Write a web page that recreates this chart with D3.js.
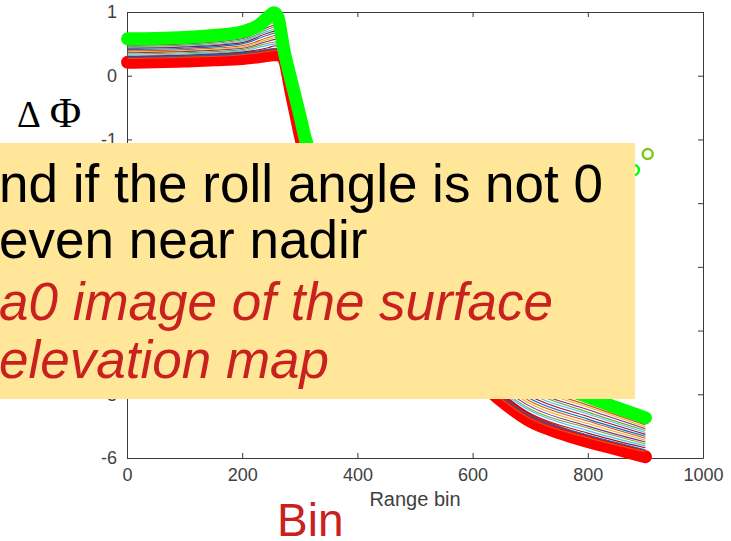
<!DOCTYPE html>
<html>
<head>
<meta charset="utf-8">
<script src="https://cdn.jsdelivr.net/npm/d3@7/dist/d3.min.js"></script>
<style>
  html, body { margin: 0; padding: 0; background: #fff; }
  svg { display: block; }
  .tick text { font-family: "Liberation Sans", Arial, sans-serif; fill: #404040; }
</style>
</head>
<body>
<svg id="chart" width="731" height="541"></svg>
<script>
// Range bins sampled for the two extreme profiles
const bins = [1, 50, 100, 150, 200, 230, 245, 255, 262, 272, 286, 300, 310,
              350, 400, 450, 500, 550, 600, 650, 700, 750, 800, 850, 900];

// Upper (green) and lower (red) phase-difference profiles
const greenValues = [0.58, 0.585, 0.60, 0.63, 0.69, 0.80, 0.92, 0.99, 0.92, 0.42, -0.11, -0.62, -1.0,
                     -1.6, -2.2, -2.75, -3.25, -3.7, -4.1, -4.42, -4.68, -4.88, -5.04, -5.21, -5.37];
const redValues = [0.21, 0.22, 0.23, 0.25, 0.27, 0.30, 0.32, 0.33, 0.33, 0.27, -0.3, -0.9, -1.3,
                   -2.05, -2.72, -3.3, -3.8, -4.27, -4.7, -5.1, -5.42, -5.6, -5.74, -5.86, -5.98];

// Intermediate profiles, sampled more coarsely
const midBins = [1, 100, 200, 245, 258, 272, 290, 310, 400, 500, 600, 700, 800, 900];
const midSeries = [
  [0.53, 0.55, 0.64, 0.86, 0.90, 0.40, -0.28, -1.05, -2.25, -3.30, -4.15, -4.80, -5.13, -5.45],
  [0.51, 0.53, 0.62, 0.83, 0.87, 0.39, -0.30, -1.08, -2.28, -3.33, -4.19, -4.84, -5.17, -5.48],
  [0.50, 0.52, 0.60, 0.80, 0.83, 0.38, -0.32, -1.10, -2.32, -3.37, -4.22, -4.88, -5.20, -5.51],
  [0.48, 0.50, 0.58, 0.76, 0.80, 0.38, -0.34, -1.13, -2.35, -3.40, -4.26, -4.92, -5.24, -5.54],
  [0.46, 0.48, 0.56, 0.73, 0.77, 0.37, -0.37, -1.16, -2.38, -3.43, -4.30, -4.95, -5.28, -5.57],
  [0.44, 0.46, 0.54, 0.70, 0.73, 0.36, -0.39, -1.18, -2.42, -3.47, -4.33, -4.99, -5.31, -5.60],
  [0.43, 0.45, 0.52, 0.67, 0.70, 0.35, -0.41, -1.21, -2.45, -3.50, -4.37, -5.03, -5.35, -5.63],
  [0.41, 0.43, 0.50, 0.64, 0.67, 0.34, -0.43, -1.24, -2.48, -3.53, -4.41, -5.07, -5.39, -5.66],
  [0.39, 0.41, 0.47, 0.60, 0.63, 0.34, -0.45, -1.26, -2.52, -3.57, -4.44, -5.11, -5.42, -5.69],
  [0.37, 0.39, 0.45, 0.57, 0.60, 0.33, -0.47, -1.29, -2.55, -3.60, -4.48, -5.15, -5.46, -5.72],
  [0.36, 0.38, 0.43, 0.54, 0.57, 0.32, -0.49, -1.32, -2.58, -3.63, -4.52, -5.19, -5.50, -5.75],
  [0.34, 0.36, 0.41, 0.51, 0.53, 0.31, -0.51, -1.34, -2.62, -3.67, -4.55, -5.23, -5.53, -5.78],
  [0.32, 0.34, 0.39, 0.48, 0.50, 0.30, -0.54, -1.37, -2.65, -3.70, -4.59, -5.26, -5.57, -5.81],
  [0.30, 0.32, 0.37, 0.44, 0.47, 0.30, -0.56, -1.40, -2.68, -3.73, -4.63, -5.30, -5.61, -5.84],
  [0.29, 0.31, 0.35, 0.41, 0.43, 0.29, -0.58, -1.42, -2.72, -3.77, -4.66, -5.34, -5.64, -5.87],
  [0.27, 0.29, 0.33, 0.38, 0.40, 0.28, -0.60, -1.45, -2.75, -3.80, -4.70, -5.38, -5.68, -5.90]
];
const midColors = ["#0072BD", "#D95319", "#EDB120", "#7E2F8E", "#77AC30", "#4DBEEE", "#A2142F"];

// Isolated wrapped samples near the far end
const strayPoints = [
  { bin: 880, value: -1.48, color: "#00ff00" },
  { bin: 904, value: -1.23, color: "#7cc81e" }
];

const xTicks = [0, 200, 400, 600, 800, 1000];
const yTicks = [-6, -5, -4, -3, -2, -1, 0, 1];

const noteLines = [
  { text: "nd if the roll angle is not 0", italic: false, color: "#000000", y: 202 },
  { text: "even near nadir", italic: false, color: "#000000", y: 258 },
  { text: "a0 image of the surface", italic: true, color: "#c9211e", y: 320 },
  { text: "elevation map", italic: true, color: "#c9211e", y: 378 }
];

const svg = d3.select("#chart");
const x = d3.scaleLinear().domain([0, 1000]).range([127, 703]);
const y = d3.scaleLinear().domain([-6, 1]).range([458, 12]);
const plain = d => String(d);

// Axes with inward ticks on all four sides
const axisColor = "#3a3a3a";
function styleAxis(g) {
  g.select(".domain").attr("stroke", axisColor).attr("stroke-width", 1);
  g.selectAll(".tick line").attr("stroke", axisColor);
}
svg.append("g").attr("transform", `translate(0,${y(-6)})`)
  .call(d3.axisBottom(x).tickValues(xTicks).tickSize(-5).tickSizeOuter(0).tickPadding(10).tickFormat(plain))
  .call(styleAxis)
  .call(g => g.selectAll(".tick text").attr("font-size", 18));
svg.append("g").attr("transform", `translate(0,${y(1)})`)
  .call(d3.axisTop(x).tickValues(xTicks).tickSize(-5).tickSizeOuter(0).tickFormat(""))
  .call(styleAxis);
svg.append("g").attr("transform", `translate(${x(0)},0)`)
  .call(d3.axisLeft(y).tickValues(yTicks).tickSize(-5).tickSizeOuter(0).tickPadding(10).tickFormat(plain))
  .call(styleAxis)
  .call(g => g.selectAll(".tick text").attr("font-size", 18));
svg.append("g").attr("transform", `translate(${x(1000)},0)`)
  .call(d3.axisRight(y).tickValues(yTicks).tickSize(-5).tickSizeOuter(0).tickFormat(""))
  .call(styleAxis);

svg.append("text")
  .attr("x", x(500)).attr("y", 506)
  .attr("text-anchor", "middle")
  .attr("font-family", "Liberation Sans, Arial, sans-serif")
  .attr("font-size", 20).attr("fill", "#404040")
  .text("Range bin");

const line = d3.line()
  .x(d => x(d[0]))
  .y(d => y(d[1]))
  .curve(d3.curveMonotoneX);

const band = (vals, color) => svg.append("path")
  .attr("d", line(bins.map((b, i) => [b, vals[i]])))
  .attr("fill", "none").attr("stroke", color)
  .attr("stroke-width", 13).attr("stroke-linecap", "round").attr("stroke-linejoin", "round");

// Lower profile first, then the intermediate ones, upper profile on top
band(redValues, "#ff0000");

svg.append("g").selectAll("path")
  .data(midSeries)
  .join("path")
  .attr("d", vals => line(midBins.map((b, i) => [b, vals[i]])))
  .attr("fill", "none")
  .attr("stroke", (d, i) => midColors[i % midColors.length])
  .attr("stroke-width", 1.1);

band(greenValues, "#00ff00");

svg.append("g").selectAll("circle")
  .data(strayPoints)
  .join("circle")
  .attr("cx", d => x(d.bin)).attr("cy", d => y(d.value))
  .attr("r", 5).attr("fill", "none")
  .attr("stroke", d => d.color).attr("stroke-width", 2.5);

// Y label
const yLabel = svg.append("text")
  .attr("x", 17).attr("y", 127)
  .attr("font-family", "Liberation Serif, 'Times New Roman', serif")
  .attr("fill", "#000");
yLabel.append("tspan").attr("font-size", 37).text("Δ");
yLabel.append("tspan").attr("font-size", 43).attr("dx", 9).text("Φ");

// Note panel
svg.append("rect")
  .attr("x", 0).attr("y", 143).attr("width", 635).attr("height", 256)
  .attr("fill", "#ffe699");

svg.append("g").selectAll("text")
  .data(noteLines)
  .join("text")
  .attr("x", -1).attr("y", d => d.y)
  .attr("font-family", "Liberation Sans, Arial, sans-serif")
  .attr("font-size", 53)
  .attr("font-style", d => d.italic ? "italic" : "normal")
  .attr("fill", d => d.color)
  .text(d => d.text);

svg.append("text")
  .attr("x", 277).attr("y", 536)
  .attr("font-family", "Liberation Sans, Arial, sans-serif")
  .attr("font-size", 46).attr("fill", "#c9211e")
  .text("Bin");
</script>
</body>
</html>
